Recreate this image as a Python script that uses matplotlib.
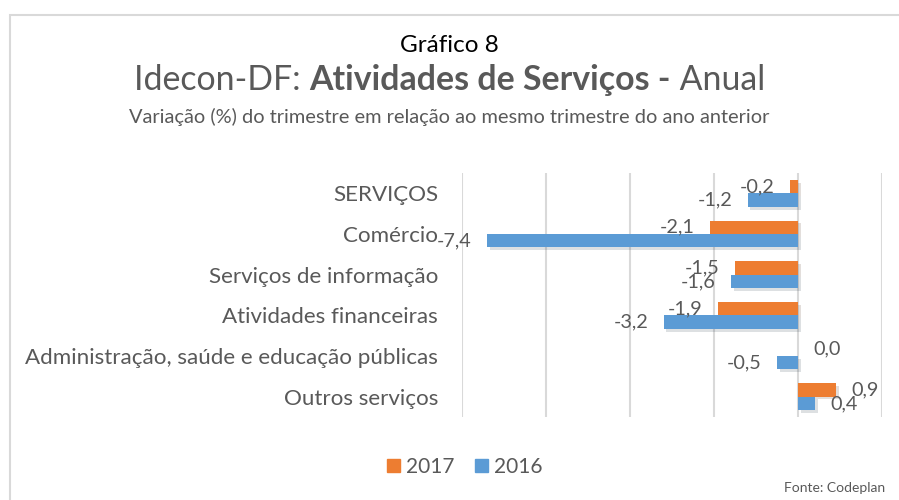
import matplotlib.pyplot as plt
import matplotlib.patheffects as pe
from matplotlib.patches import Patch, Rectangle
import numpy as np

plt.rcParams['font.family'] = ['Lato', 'DejaVu Sans']

############   DATA   #############
categorias = ["SERVIÇOS", "Comércio", "Serviços de informação",
              "Atividades financeiras", "Administração, saúde e educação públicas",
              "Outros serviços"]
var_2017 = [-0.2, -2.1, -1.5, -1.9, 0.0, 0.9]
var_2016 = [-1.2, -7.4, -1.6, -3.2, -0.5, 0.4]

laranja = "#ED7D31"
azul = "#5B9BD5"
cinza = "#595959"

fig = plt.figure(figsize=(8.99, 5.0), dpi=100)
ax = fig.add_axes([0.5136, 0.166, 0.4678, 0.488])

y = np.arange(len(categorias))
h = 0.33
sombra = [pe.SimplePatchShadow(offset=(2, -2), alpha=0.15), pe.Normal()]
b17 = ax.barh(y - h / 2, var_2017, height=h, color=laranja, zorder=3)
b16 = ax.barh(y + h / 2, var_2016, height=h, color=azul, zorder=3)
for b in list(b17) + list(b16):
    b.set_path_effects(sombra)

# rotulos de dados
for serie, pos in ((var_2017, y - h / 2), (var_2016, y + h / 2)):
    for v, yy in zip(serie, pos):
        txt = f"{v:.1f}".replace(".", ",")
        if v < 0:
            ax.annotate(txt, (v, yy), xytext=(-11, 0), textcoords="offset points",
                        ha="right", va="center", fontsize=14.3, color=cinza, zorder=5)
        else:
            ax.annotate(txt, (v, yy), xytext=(11, 0), textcoords="offset points",
                        ha="left", va="center", fontsize=14.3, color=cinza, zorder=5)

ax.set_xlim(-8, 2)
ax.set_ylim(len(categorias) - 0.5, -0.5)
ax.set_xticks(np.arange(-8, 3, 2))
ax.set_xticklabels([])
ax.tick_params(axis="x", length=0)
ax.tick_params(axis="y", length=0, pad=17)
ax.set_yticks(y)
ax.set_yticklabels(categorias, fontsize=16.1, color=cinza)
ax.grid(axis="x", color="#D9D9D9", linewidth=1.5, zorder=0)
for s in ax.spines.values():
    s.set_visible(False)

# moldura
fig.patches.append(Rectangle((10 / 899, -0.1), 1.2, 1 - 15 / 500 + 0.1,
                             transform=fig.transFigure, fill=False,
                             edgecolor="#D9D9D9", linewidth=1.5))

# titulos
fig.text(0.5, 1 - 45 / 500, "Gráfico 8", ha="center", va="center", fontsize=17.5, color="black")
partes = [("Idecon-DF: ", "normal"), ("Atividades de Serviços -", "bold"), (" Anual", "normal")]
r = fig.canvas.get_renderer()
textos = [fig.text(0, 1 - 80 / 500, t, fontsize=24.4, fontweight=w, color=cinza, va="center")
          for t, w in partes]
larg = [t.get_window_extent(r).width for t in textos]
x0 = (fig.bbox.width - sum(larg)) / 2
for t, w in zip(textos, larg):
    t.set_x(x0 / fig.bbox.width)
    x0 += w
fig.text(0.5, 1 - 117 / 500, "Variação (%) do trimestre em relação ao mesmo trimestre do ano anterior",
         ha="center", va="center", fontsize=14.4, color=cinza)

fig.legend(handles=[Patch(color=laranja, label="2017"), Patch(color=azul, label="2016")],
           loc="center", bbox_to_anchor=(465 / 899, 1 - 467 / 500), ncol=2, frameon=False,
           fontsize=15, handlelength=0.6, handleheight=0.6, handletextpad=0.3,
           columnspacing=1.0, labelcolor=cinza)
fig.text(885 / 899, 1 - 488 / 500, "Fonte: Codeplan", ha="right", va="center",
         fontsize=10, color=cinza)

fig.savefig("out.png", dpi=100)
